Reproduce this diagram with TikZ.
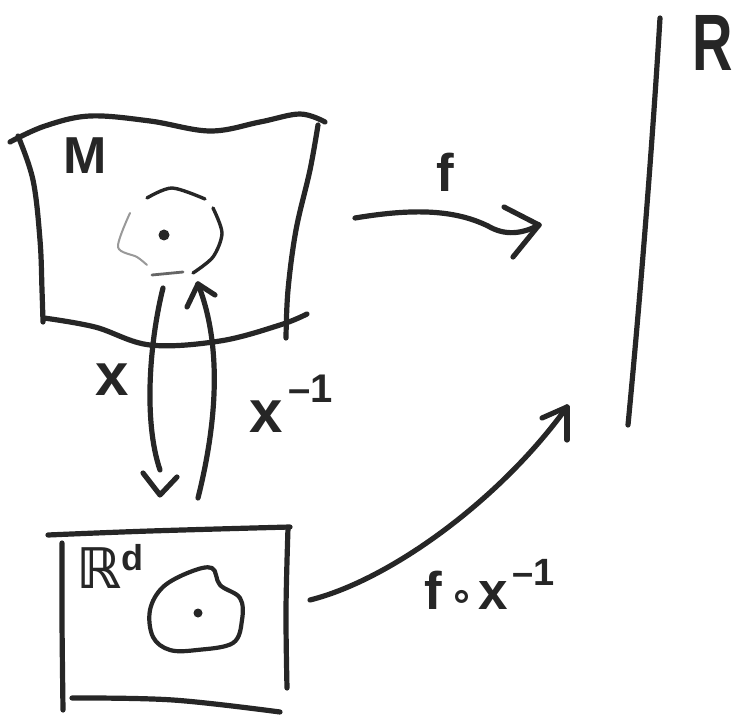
\documentclass[tikz,border=0pt]{standalone}
\usepackage{fontspec}
\newfontfamily\hand{Liberation Sans}
\newfontfamily\sym{DejaVu Sans}
\begin{document}
\begin{tikzpicture}[x=1pt,y=-1pt,line cap=round,line join=round,
  ink/.style={line width=5.2pt,draw=black!85},
  faint/.style={line width=2pt,draw=black!40},
  lbl/.style={inner sep=0pt,text=black!85},
  dotmark/.style={circle,fill=black!85,inner sep=0pt,minimum size=11pt}]
\useasboundingbox (0,0) rectangle (734,719);

% ---------- manifold M ----------
\draw[ink] plot[smooth,tension=0.6] coordinates {(10,142) (45,126) (90,116) (150,121) (210,131) (260,122) (300,114) (325,122)};
\draw[ink] plot[smooth,tension=0.6] coordinates {(18,136) (33,180) (40,240) (42,290) (43,322)};
\draw[ink] plot[smooth,tension=0.6] coordinates {(318,125) (310,170) (296,230) (288,290) (286,338)};
\draw[ink] plot[smooth,tension=0.6] coordinates {(44,318) (95,327) (150,345) (220,341) (280,325) (307,314)};
\node[lbl,font=\hand\bfseries\fontsize{52}{52}\selectfont] (Mlab) at (85,156) {M};

% neighbourhood in M
\draw[ink,line width=3.4pt] plot[smooth] coordinates {(147,198) (172,188) (205,199)};
\draw[ink,line width=3.4pt] plot[smooth] coordinates {(213,208) (222,233) (213,257) (193,273)};
\draw[ink,line width=2.8pt,draw=black!60] plot[smooth] coordinates {(152,275) (183,272)};
\draw[faint] plot[smooth] coordinates {(130,213) (118,247) (137,257) (147,265)};
\node[dotmark] (pM) at (164,235) {};

% ---------- chart domain R^d ----------
\draw[ink] plot[smooth,tension=0.6] coordinates {(48,535) (150,531) (290,527)};
\draw[ink] plot[smooth,tension=0.6] coordinates {(62,543) (62,620) (63,710)};
\draw[ink] plot[smooth,tension=0.6] coordinates {(288,528) (286,610) (287,688)};
\draw[ink] plot[smooth,tension=0.6] coordinates {(72,698) (173,700) (280,712)};
\node[lbl,font=\sym\bfseries\fontsize{56}{56}\selectfont,anchor=base west] (Rdlab) at (76,588)
  {ℝ\raisebox{0.32em}{\hand\bfseries\fontsize{36}{36}\selectfont d}};

\draw[ink,line width=4.2pt] plot[smooth cycle,tension=0.6] coordinates {(150,610) (163,587) (190,572) (212,568) (220,585) (240,598) (242,620) (233,643) (197,650) (170,650) (153,637)};
\node[dotmark,minimum size=9pt] (pR) at (198,613) {};

% ---------- real line R ----------
\coordinate (Rtop) at (660,18);
\coordinate (Rbot) at (628,425);
\draw[ink] (Rtop) .. controls (652,150) and (640,300) .. (Rbot);
\node[lbl,font=\hand\bfseries\fontsize{80}{80}\selectfont] (Rlab) at (713,43) {\scalebox{0.7}[1]{R}};

% ---------- arrow f ----------
\coordinate (fS) at (355,218);
\coordinate (fE) at (539,225);
\draw[ink] (fS) .. controls (415,208) and (455,210) .. (488,226) .. controls (505,236) and (522,234) .. (fE);
\draw[ink] (fE) -- (504,207);
\draw[ink] (fE) -- (513,257);
\node[lbl,font=\hand\bfseries\fontsize{53}{53}\selectfont] (flab) at (445,172) {f};

% ---------- arrow x ----------
\coordinate (xS) at (163,288);
\coordinate (xE) at (160,470);
\coordinate (xT) at (160,495);
\draw[ink] (xS) .. controls (150,340) and (143,420) .. (xE);
\draw[ink] (143,473) -- (xT) -- (177,477);
\node[lbl,font=\hand\bfseries\fontsize{60}{60}\selectfont] (xlab) at (112,380) {x};

% ---------- arrow x^{-1} ----------
\coordinate (xiS) at (198,498);
\coordinate (xiE) at (198,284);
\draw[ink] (xiS) .. controls (215,430) and (224,350) .. (xiE);
\draw[ink] (xiE) -- (187,307);
\draw[ink] (xiE) -- (215,295);
\node[lbl,font=\hand\bfseries\fontsize{60}{60}\selectfont,anchor=base west] (xilab) at (249,432)
  {x\hspace{6pt}\raisebox{0.5em}{\fontsize{40}{40}\selectfont –1}};

% ---------- arrow f o x^{-1} ----------
\coordinate (gS) at (310,600);
\coordinate (gE) at (567,407);
\draw[ink] (gS) .. controls (390,580) and (500,500) .. (gE);
\draw[ink] (gE) -- (542,418);
\draw[ink] (gE) -- (567,440);
\node[lbl,font=\hand\bfseries\fontsize{53}{53}\selectfont,anchor=base west] (glab) at (424,609)
  {f\hspace{8pt}{\sym\bfseries\fontsize{40}{40}\selectfont ∘}\hspace{4pt}x\hspace{4pt}\raisebox{0.45em}{\fontsize{38}{38}\selectfont –1}};
\end{tikzpicture}
\end{document}
